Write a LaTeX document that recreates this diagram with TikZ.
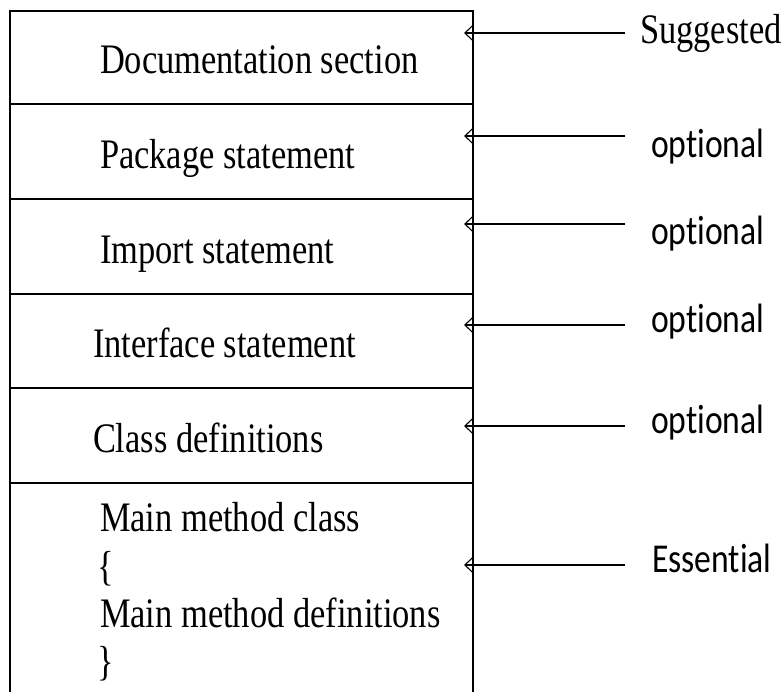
\documentclass[tikz,border=0pt]{standalone}
\usepackage{fontspec}
\usepackage{graphicx}
\usetikzlibrary{arrows.meta}
\newfontfamily\tmsfont{Liberation Serif}
\newfontfamily\calfont[Ligatures={NoCommon,NoContextual}]{Carlito}
\newcommand{\sqz}[1]{\scalebox{0.82}[1]{#1}}
\tikzset{
  sec/.style={draw=black, line width=1.3pt, rectangle, minimum width=463pt, inner sep=0pt, outer sep=0pt},
  tx/.style={anchor=base west, inner sep=0pt, outer sep=0pt, font=\tmsfont\fontsize{42}{48}\selectfont},
  lbl/.style={anchor=base west, inner sep=0pt, outer sep=0pt, font=\calfont\fontsize{41}{48}\selectfont},
  pointer/.style={draw=black, line width=1.1pt, -{Straight Barb[length=8pt,width=15pt,line width=1.1pt]}}
}
\begin{document}
\begin{tikzpicture}[x=1pt, y=-1pt]
\useasboundingbox (0,0) rectangle (782,691);
\fill[white] (0,0) rectangle (782,691);
\clip (0,0) rectangle (782,691);
% sections
\node[sec, minimum height=93pt] (doc) at (241.5,57.5) {};
\node[sec, minimum height=95pt] (pkg) at (241.5,151.5) {};
\node[sec, minimum height=95pt] (imp) at (241.5,246.5) {};
\node[sec, minimum height=94pt] (itf) at (241.5,341) {};
\node[sec, minimum height=95pt] (cls) at (241.5,435.5) {};
\node[sec, minimum height=222pt] (mainbox) at (241.5,594) {};
% texts
\node[tx] (tdoc) at (100,73) {\sqz{Documentation section}};
\node[tx] (tpkg) at (100,168) {\sqz{Package statement}};
\node[tx] (timp) at (100,263) {\sqz{Import statement}};
\node[tx] (titf) at (93,357) {\sqz{Interface statement}};
\node[tx] (tcls) at (93,452) {\sqz{Class definitions}};
\node[tx] (tm1) at (100,531) {\sqz{Main method class}};
\node[tx] (tm2) at (97,580) {\sqz{\{}};
\node[tx] (tm3) at (100,627) {\sqz{Main method definitions}};
\node[tx] (tm4) at (97,675) {\sqz{\}}};
% labels
\node[tx] (lsug) at (640,43) {\sqz{Suggested}};
\node[lbl] (lo1) at (651,157) {\sqz{optional}};
\node[lbl] (lo2) at (651,244) {\sqz{optional}};
\node[lbl] (lo3) at (651,332) {\sqz{optional}};
\node[lbl] (lo4) at (651,433) {\sqz{optional}};
\node[lbl] (less) at (652,572) {\sqz{Essential}};
% arrow ends
\coordinate (s1) at (625,33);  \coordinate (e1) at (464,33);
\coordinate (s2) at (625,136); \coordinate (e2) at (464,136);
\coordinate (s3) at (625,224); \coordinate (e3) at (464,224);
\coordinate (s4) at (625,325); \coordinate (e4) at (464,325);
\coordinate (s5) at (625,426); \coordinate (e5) at (464,426);
\coordinate (s6) at (625,565); \coordinate (e6) at (464,565);
\draw[pointer] (s1) -- (e1);
\draw[pointer] (s2) -- (e2);
\draw[pointer] (s3) -- (e3);
\draw[pointer] (s4) -- (e4);
\draw[pointer] (s5) -- (e5);
\draw[pointer] (s6) -- (e6);
\end{tikzpicture}
\end{document}
